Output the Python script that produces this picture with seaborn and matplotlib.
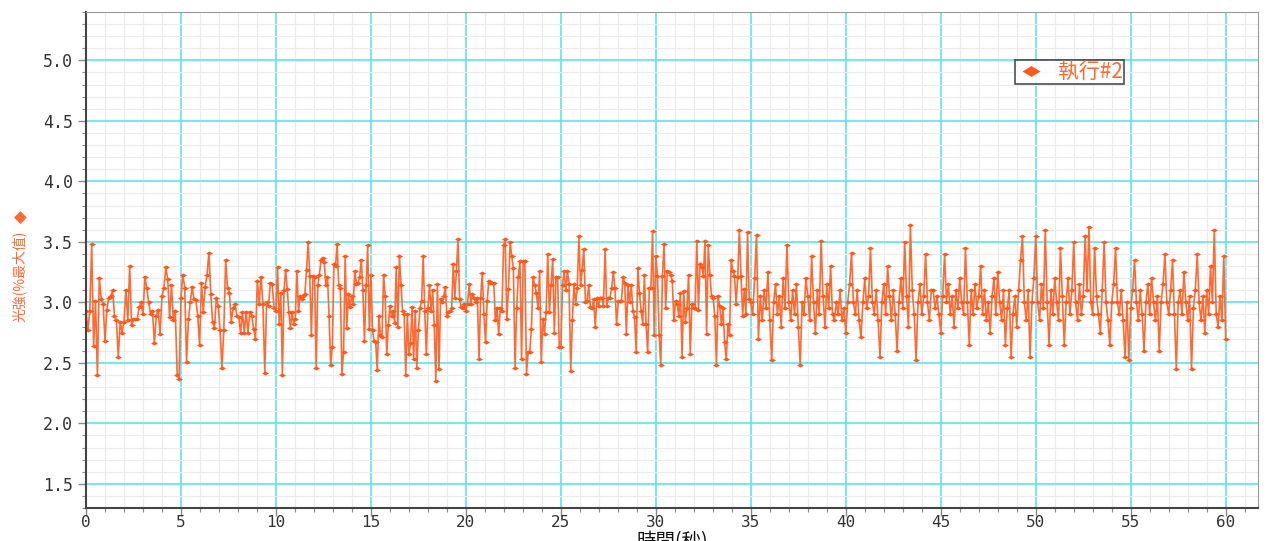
import numpy as np
import pandas as pd
import matplotlib
matplotlib.use("Agg")
import matplotlib.pyplot as plt
from matplotlib.ticker import MultipleLocator, FormatStrFormatter
from matplotlib.lines import Line2D
import seaborn as sns

# ---- data: light intensity (% of max), read per 5-second block ----
block_starts = [0, 5, 10, 15, 20, 25, 30, 35, 40, 45, 50, 55]
b0 = [2.93,2.77,2.93,3.48,2.64,3.01,2.40,3.20,3.03,2.99,2.68,2.94,3.04,3.05,3.10,2.89,2.85,2.55,2.84,2.75,
      2.84,3.10,2.85,3.30,2.81,2.86,2.86,2.86,2.96,3.00,2.90,3.21,3.12,3.00,2.90,2.93,2.66,2.89,2.94,2.74,
      3.05,3.12,3.29,3.19,2.88,3.14,2.85,2.93,2.40,2.37]
b1 = [3.04,3.23,3.12,2.51,2.86,3.00,3.13,3.03,3.02,2.89,2.65,3.16,2.92,3.13,3.23,3.41,3.07,2.84,2.79,3.04,
      2.97,2.77,2.46,2.77,3.35,3.12,3.08,2.84,2.95,2.99,2.89,2.88,2.75,2.92,2.75,2.92,2.75,2.92,2.89,2.78,
      2.70,3.18,2.99,3.21,2.99,2.42,3.00,2.97,3.16,3.15,2.95]
b2 = [2.93,3.29,2.82,3.08,2.40,3.10,3.27,3.11,2.92,2.79,2.92,2.82,2.86,3.26,2.93,3.05,3.03,3.05,3.07,3.27,
      3.50,3.22,2.73,3.22,3.21,2.46,3.14,3.23,3.35,3.37,3.33,3.14,3.21,2.89,2.48,2.63,3.32,3.30,3.48,3.14,
      3.12,2.41,2.59,3.38,2.79,3.07,2.96,3.05,2.99,3.26,3.15,3.16,3.21,3.35,3.10,2.68,3.14,3.47,2.78]
b3 = [3.23,2.77,2.68,2.67,2.44,2.89,2.73,2.71,3.23,3.05,2.57,2.81,2.97,2.89,2.93,2.83,3.29,2.80,3.38,3.14,
      2.93,2.90,2.40,2.90,2.57,2.66,2.96,2.53,2.93,2.46,2.77,2.95,3.01,3.38,2.93,2.57,2.95,3.14,2.93,3.10,
      2.81,2.35,3.15,2.45,3.03,3.00,3.05,3.13,2.89,2.92,2.93,2.95,3.32,3.04,3.26,3.52,3.03,2.96,2.95,2.99]
b4 = [2.93,2.99,3.15,2.99,3.07,3.04,3.00,3.04,2.53,3.04,3.24,2.90,2.67,3.01,3.18,3.16,3.16,3.16,2.85,2.95,
      2.74,2.95,2.93,3.47,3.52,2.86,3.11,3.50,3.38,3.28,2.46,2.95,3.21,3.34,2.53,3.34,3.34,2.41,2.59,2.59,
      2.78,3.21,3.14,3.08,2.95,3.26,2.51,2.86,2.74,2.92,3.40,2.92,3.14,3.36,2.75,3.21,3.21,2.63]
b5 = [2.63,3.14,3.26,3.10,3.26,3.15,2.43,2.85,3.15,2.99,3.12,3.55,3.14,3.27,3.44,3.00,3.01,3.14,2.96,2.95,
      3.03,2.80,3.04,2.97,3.04,3.04,2.97,3.44,2.97,3.04,3.04,3.12,3.25,3.12,2.82,3.01,3.01,3.01,3.21,3.16,
      2.74,3.14,3.00,3.14,2.93,2.88,2.59,3.28,3.08,2.93,2.82,3.23,2.82,2.59,3.12,3.12,3.59,2.73]
b6 = [3.38,3.22,2.73,2.48,3.22,3.48,2.95,3.26,3.25,3.23,3.18,2.85,3.01,2.99,2.89,3.08,2.55,3.09,2.84,2.95,
      3.23,2.57,2.99,2.95,2.95,3.51,2.94,3.32,3.29,3.22,3.51,2.74,3.47,3.23,3.05,3.04,2.89,2.48,3.05,2.97,
      2.82,2.95,2.67,2.53,2.82,2.73,3.35,3.26,3.22,2.99,3.21,3.60,3.22,2.89,3.11,2.90,3.58,3.03]
b7 = [3.00,2.90,3.20,3.56,2.70,3.05,2.85,3.10,2.95,3.25,2.85,2.52,3.00,3.15,2.90,3.05,2.80,3.20,2.95,3.47,
      3.00,2.85,3.10,2.90,3.15,2.80,2.48,3.00,2.90,3.20,3.05,2.85,3.38,3.00,2.75,3.10,2.90,3.51,3.05,2.80,
      3.15,2.95,3.30,2.90,2.85,3.00,2.90,3.10,2.85,2.95]
b8 = [2.75,3.00,3.15,3.41,3.00,2.90,3.10,2.85,2.71,3.00,3.20,2.95,3.05,3.45,3.00,2.90,3.10,2.85,2.55,3.00,
      3.15,2.90,3.30,3.05,2.85,3.10,2.90,2.60,3.00,3.20,2.95,3.50,3.05,2.80,3.64,3.10,2.90,2.52,3.00,3.15,
      2.90,3.05,3.40,3.00,2.85,3.10,3.10,2.95,3.05,2.90]
b9 = [2.75,3.05,3.40,3.00,3.15,2.90,3.05,2.80,3.10,2.95,3.20,3.00,2.90,3.45,3.00,2.65,3.10,2.90,3.15,2.95,
      3.05,3.30,2.90,3.10,2.85,3.00,2.75,3.05,3.20,2.90,3.25,3.00,2.85,3.10,2.65,2.95,3.10,2.55,2.90,3.05,
      2.80,3.10,3.35,3.55,3.00,2.85,3.10,2.55,3.00,3.20]
b10 = [3.55,3.00,2.85,3.15,2.95,3.60,3.00,2.65,3.10,2.90,3.20,3.00,2.85,3.45,3.05,2.65,3.00,3.20,2.90,3.10,
       3.50,3.00,2.85,3.15,2.90,3.05,3.55,3.10,3.62,3.00,2.90,3.45,3.05,2.90,2.75,3.10,3.50,3.00,2.85,2.65,
       3.00,3.15,3.45,3.00,2.90,3.10,2.85,2.55,3.00,2.52]
b11 = [2.95,3.10,3.35,3.00,2.85,3.10,2.90,2.60,3.00,3.15,2.90,3.20,3.00,2.85,3.05,2.60,3.00,3.15,3.40,3.00,
       2.90,3.10,3.35,2.90,2.45,3.00,3.10,2.90,3.25,3.00,2.85,3.05,2.45,2.95,3.10,3.40,3.00,2.85,3.05,2.75,
       3.10,2.90,3.30,3.00,3.60,2.90,2.80,3.05,2.85,3.38,2.70]
blocks = [b0, b1, b2, b3, b4, b5, b6, b7, b8, b9, b10, b11]
series_name = "執行#2"
x_label = "時間(秒)"
y_label = "光強(%最大值)"

times, vals = [], []
for i, (s, b) in enumerate(zip(block_starts, blocks)):
    k = len(b)
    step = 5.0 / (k - 1) if i == len(blocks) - 1 else 5.0 / k
    times.extend(s + np.arange(k) * step)
    vals.extend(b)
df = pd.DataFrame({"t": times, "v": vals, "run": series_name})

sns.set_theme(style="white")
plt.rcParams["font.family"] = ["Noto Sans CJK TC", "DejaVu Sans"]

orange = "#FF6A33"
mk_color = "#FF5A1E"
fig = plt.figure(figsize=(12.67, 5.41), dpi=100)
ax = fig.add_axes([86/1267, 1-508/541, (1258-86)/1267, (508-12)/541])

diamond = [(-1, 0), (0, 0.6), (1, 0), (0, -0.6), (-1, 0)]
sns.lineplot(data=df, x="t", y="v", hue="run", palette=[orange], ax=ax,
             sort=False, estimator=None, lw=1.2, marker=diamond, markersize=5,
             markeredgewidth=0, markerfacecolor=mk_color, legend=False)

ax.set_xlim(0, 61.7)
ax.set_ylim(1.3, 5.4)
ax.xaxis.set_major_locator(MultipleLocator(5))
ax.xaxis.set_minor_locator(MultipleLocator(1))
ax.yaxis.set_major_locator(MultipleLocator(0.5))
ax.yaxis.set_minor_locator(MultipleLocator(0.1))
ax.yaxis.set_major_formatter(FormatStrFormatter("%.1f"))
ax.grid(which="major", color="#5EE3EC", lw=1.2)
ax.grid(which="minor", color="#EBEBEB", lw=0.8)
ax.set_axisbelow(True)
ax.tick_params(which="both", direction="out", left=True, bottom=True, color="#888888")
ax.tick_params(which="major", length=6, width=1)
ax.tick_params(which="minor", length=3, width=0.8)
ax.tick_params(axis="x", which="major", pad=-1)
for lab in ax.get_yticklabels():
    lab.set_fontfamily("DejaVu Sans Mono")
    lab.set_fontsize(12)
    lab.set_color("#333333")
for lab in ax.get_xticklabels():
    lab.set_fontfamily("DejaVu Sans Mono")
    lab.set_fontsize(11.5)
    lab.set_color("#333333")
for side in ["left", "bottom"]:
    ax.spines[side].set_color("#444444")
    ax.spines[side].set_linewidth(1.5)
for side in ["top", "right"]:
    ax.spines[side].set_color("#999999")
    ax.spines[side].set_linewidth(0.8)

ax.set_xlabel("")
ax.set_ylabel("")
fig.text(672/1267, 1-531/541, x_label, fontsize=14, color="#111111",
         ha="center", va="top")
fig.text(19/1267, 1-276/541, y_label, rotation=90, color=orange, fontsize=10,
         ha="center", va="center")
fig.text(20/1267, 1-218/541, "◆", color=orange, fontsize=12, ha="center", va="center",
         family=["DejaVu Sans"])

h = Line2D([], [], color=orange, lw=0, marker=diamond, markersize=13,
           markeredgewidth=0, markerfacecolor=mk_color)
leg = ax.legend([h], [series_name], loc="upper left", bbox_to_anchor=(0.793, 0.903),
                frameon=True, fancybox=False, fontsize=15, handlelength=1.4,
                borderpad=0.05, borderaxespad=0, handletextpad=0.6, labelcolor=orange)
leg.get_frame().set_edgecolor("#222222")
leg.get_frame().set_linewidth(1.2)

fig.savefig("out.png", dpi=100)
